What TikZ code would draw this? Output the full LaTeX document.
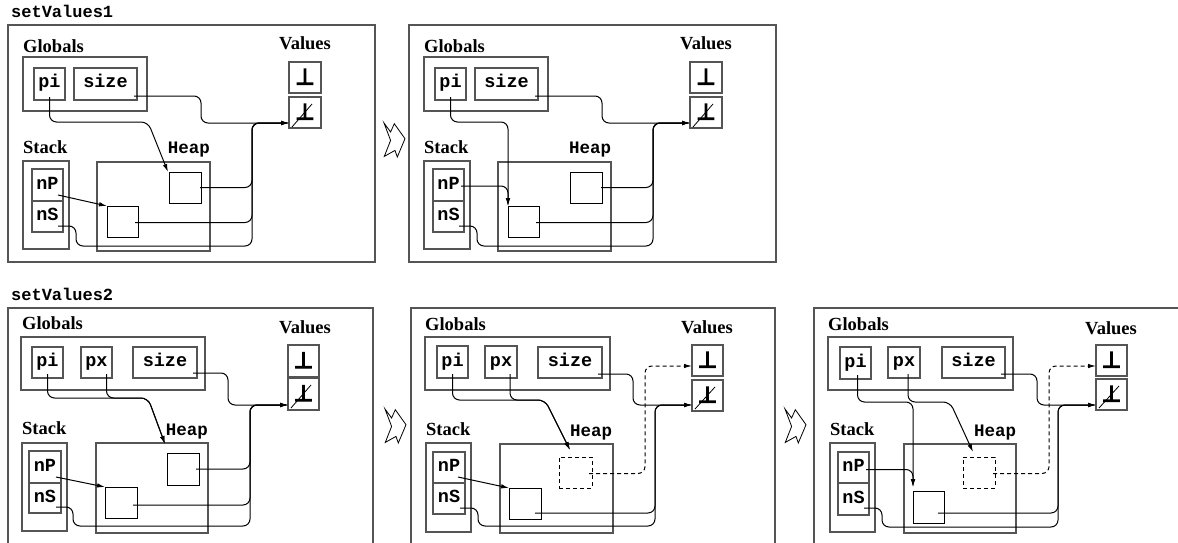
\documentclass[tikz,border=0pt]{standalone}
\usepackage{fontspec}
\setmainfont{Liberation Serif}
\setmonofont{Liberation Mono}
\newfontfamily\djv[FakeBold=6]{DejaVu Sans}
\usetikzlibrary{arrows.meta,calc}
\definecolor{fr}{RGB}{85,85,85}
\newcommand\rbox[7][]{\node[#1, minimum width={#5-#3}, minimum height={#6-#4}] (#2) at ({(#3+#5)/2},{(#4+#6)/2}) {#7};}
\newcommand\bottxt{{\djv ⊥}}
\newcommand\chevron[2]{\draw[chev, shift={(#1,#2)}] (0,0) -- (6.6,9) -- (10.3,0.7) -- (21,15.7) -- (13.3,34) -- (11,27.4) -- (0.3,33.4) -- (6.6,17.4) -- cycle;}
\tikzset{
  frm/.style={draw=fr, line width=1.2pt, inner sep=0pt, outer sep=0pt},
  grp/.style={draw=fr, line width=1.1pt, inner sep=0pt, outer sep=0pt},
  cell/.style={draw=fr, line width=1.1pt, inner sep=0pt, outer sep=0pt,
    font=\fontsize{18.5}{18}\selectfont\ttfamily\bfseries, text height=11pt, text depth=3pt},
  vcell/.style={font=\fontsize{22}{22}\selectfont, text height=14pt, text depth=0pt},
  hbox/.style={draw=black, line width=1pt, inner sep=0pt, outer sep=0pt},
  dbox/.style={hbox, dash pattern=on 4pt off 3pt},
  lbl/.style={font=\fontsize{18.5}{20}\selectfont\bfseries, anchor=base west, inner sep=0pt},
  vlbl/.style={lbl, anchor=base},
  hlbl/.style={font=\fontsize{17.5}{18}\selectfont\ttfamily\bfseries, anchor=base, inner sep=0pt},
  ttl/.style={font=\fontsize{17}{18}\selectfont\ttfamily\bfseries, anchor=base west, inner sep=0pt},
  link/.style={draw=black, line width=1pt, rounded corners=7pt},
  arr/.style={link, -{Latex[length=8pt,width=4.5pt]}},
  darr/.style={arr, dash pattern=on 4pt off 3pt},
  slash/.style={draw=black, line width=0.8pt},
  chev/.style={draw=black, line width=0.8pt, line join=miter},
}
\begin{document}
\begin{tikzpicture}[x=1pt,y=-1pt]
\useasboundingbox (0,0) rectangle (1178,543);
\clip (0,0) rectangle (1178,543);

%%%%%%%%%%%%%%%% Panel A
\node[ttl] (A-title) at (11,18) {setValues1};
\rbox[frm]{A-frame}{8}{25}{375}{262}{}
\node[lbl] (A-glab) at (23,53) {Globals};
\rbox[grp]{A-glob}{23}{57}{147}{111}{}
\rbox[cell]{A-pi}{34}{68}{65}{100}{pi}
\rbox[cell]{A-size}{74}{68}{137}{100}{size}
\node[vlbl] (A-vlab) at (305,50) {Values};
\rbox[cell,vcell]{A-bot}{289}{62}{321}{93}{\bottxt}
\rbox[cell,vcell]{A-nbot}{289}{97}{321}{128}{\bottxt}
\draw[slash] ($(A-nbot.south west)+(3,-1)$) -- ($(A-nbot.north east)+(-9,7)$);
\node[lbl] (A-slab) at (23,153) {Stack};
\rbox[grp]{A-stack}{23}{161}{69}{249}{}
\rbox[cell]{A-nP}{32}{169}{63}{201}{nP}
\rbox[cell]{A-nS}{32}{201}{63}{232}{nS}
\node[hlbl] (A-hlab) at (189,153) {Heap};
\rbox[grp]{A-heap}{97}{162}{210}{251}{}
\rbox[hbox]{A-up}{169}{172}{201}{203}{}
\rbox[hbox]{A-lo}{107}{206}{138}{237}{}
\coordinate (A-in) at ($(A-nbot.south west)+(0,-5)$);
\draw[arr] ($(A-size.south east)+(-3,-4)$) -| (201,123) -- (A-in);
\draw[arr] ($(A-pi.south)+(0,-3)$) |- (148,122) -- ($(A-up.north west)+(-1,0)$);
\draw[arr] ($(A-nP.south east)+(-5,-6)$) -- (A-lo.north west);
\draw[arr] ($(A-up.east)+(-1,0)$) -| (252,123) -- (A-in);
\draw[arr] ($(A-lo.east)+(-3,1)$) -| (252,123) -- (A-in);
\draw[arr] ($(A-nS.east)+(-5,9.5)$) -| (76,246) -| (252,123) -- (A-in);

\chevron{384}{123}

%%%%%%%%%%%%%%%% Panel B
\rbox[frm]{B-frame}{409}{25}{776}{262}{}
\node[lbl] (B-glab) at (424,53) {Globals};
\rbox[grp]{B-glob}{424}{57}{548}{111}{}
\rbox[cell]{B-pi}{435}{68}{466}{100}{pi}
\rbox[cell]{B-size}{475}{68}{538}{100}{size}
\node[vlbl] (B-vlab) at (706,50) {Values};
\rbox[cell,vcell]{B-bot}{690}{62}{722}{93}{\bottxt}
\rbox[cell,vcell]{B-nbot}{690}{97}{722}{128}{\bottxt}
\draw[slash] ($(B-nbot.south west)+(3,-1)$) -- ($(B-nbot.north east)+(-9,7)$);
\node[lbl] (B-slab) at (424,153) {Stack};
\rbox[grp]{B-stack}{424}{161}{470}{249}{}
\rbox[cell]{B-nP}{433}{169}{464}{201}{nP}
\rbox[cell]{B-nS}{433}{201}{464}{232}{nS}
\node[hlbl] (B-hlab) at (590,153) {Heap};
\rbox[grp]{B-heap}{498}{162}{611}{251}{}
\rbox[hbox]{B-up}{570}{172}{602}{203}{}
\rbox[hbox]{B-lo}{508}{206}{539}{237}{}
\coordinate (B-in) at ($(B-nbot.south west)+(0,-5)$);
\draw[arr] ($(B-size.south east)+(-3,-4)$) -| (602,123) -- (B-in);
\draw[arr] ($(B-pi.south)+(0,-3)$) |- (508,122) -- (B-lo.north west);
\draw[arr] ($(B-nP.east)+(-3,1)$) -| (B-lo.north west);
\draw[arr] ($(B-up.east)+(-1,0)$) -| (653,123) -- (B-in);
\draw[arr] ($(B-lo.east)+(-3,1)$) -| (653,123) -- (B-in);
\draw[arr] ($(B-nS.east)+(-5,9.5)$) -| (477,246) -| (653,123) -- (B-in);

%%%%%%%%%%%%%%%% Panel C
\node[ttl] (C-title) at (11,300) {setValues2};
\rbox[frm]{C-frame}{8}{308}{373}{580}{}
\node[lbl] (C-glab) at (22,329) {Globals};
\rbox[grp]{C-glob}{21}{337}{205}{390}{}
\rbox[cell]{C-pi}{32}{347}{63}{378}{pi}
\rbox[cell]{C-px}{81}{347}{112}{378}{px}
\rbox[cell]{C-size}{133}{347}{197}{378}{size}
\node[vlbl] (C-vlab) at (305,333) {Values};
\rbox[cell,vcell]{C-bot}{288}{345}{319}{377}{\bottxt}
\rbox[cell,vcell]{C-nbot}{288}{378}{319}{410}{\bottxt}
\draw[slash] ($(C-nbot.south west)+(3,-2)$) -- ($(C-nbot.north east)+(-8,7)$);
\node[lbl] (C-slab) at (22,434) {Stack};
\rbox[grp]{C-stack}{22}{443}{67}{531}{}
\rbox[cell]{C-nP}{29}{451}{61}{483}{nP}
\rbox[cell]{C-nS}{29}{483}{61}{513}{nS}
\node[hlbl] (C-hlab) at (187,435) {Heap};
\rbox[grp]{C-heap}{96}{443}{208}{533}{}
\rbox[hbox]{C-up}{167}{453}{199}{485}{}
\rbox[hbox]{C-lo}{105}{487}{137}{518}{}
\coordinate (C-in) at ($(C-nbot.south west)+(0,-5)$);
\draw[arr] ($(C-size.south east)+(-4,-5)$) -| (228,405) -- (C-in);
\draw[arr] ($(C-pi.south)+(0,-4)$) |- (148,398) -- ($(C-up.north west)+(-2,-9)$);
\draw[arr] ($(C-px.south)+(10,-4)$) |- (148,398) -- ($(C-up.north west)+(-2,-9)$);
\draw[arr] ($(C-nP.south east)+(-5,-6)$) -- (C-lo.north west);
\draw[arr] ($(C-up.east)+(-3,0)$) -| (250,405) -- (C-in);
\draw[arr] ($(C-lo.east)+(-4,2.5)$) -| (250,405) -- (C-in);
\draw[arr] ($(C-nS.east)+(-5,9)$) -| (73,526) -| (250,405) -- (C-in);

\chevron{385}{409}

%%%%%%%%%%%%%%%% Panel D
\rbox[frm]{D-frame}{411}{308}{775}{580}{}
\node[lbl] (D-glab) at (425,330) {Globals};
\rbox[grp]{D-glob}{425}{337}{610}{390}{}
\rbox[cell]{D-pi}{437}{346}{468}{378}{pi}
\rbox[cell]{D-px}{485}{346}{517}{378}{px}
\rbox[cell]{D-size}{538}{347}{602}{378}{size}
\node[vlbl] (D-vlab) at (707,333) {Values};
\rbox[cell,vcell]{D-bot}{692}{345}{723}{376}{\bottxt}
\rbox[cell,vcell]{D-nbot}{692}{380}{723}{411}{\bottxt}
\draw[slash] ($(D-nbot.south west)+(3,-2)$) -- ($(D-nbot.north east)+(-8,7)$);
\node[lbl] (D-slab) at (426,435) {Stack};
\rbox[grp]{D-stack}{426}{443}{471}{532}{}
\rbox[cell]{D-nP}{433}{452}{465}{483}{nP}
\rbox[cell]{D-nS}{433}{483}{465}{514}{nS}
\node[hlbl] (D-hlab) at (591,436) {Heap};
\rbox[grp]{D-heap}{500}{444}{613}{533}{}
\rbox[dbox]{D-new}{559}{457}{592}{488}{}
\rbox[hbox]{D-lo}{509}{488}{541}{519}{}
\coordinate (D-in) at ($(D-nbot.south west)+(0,-6)$);
\draw[arr] ($(D-size.south east)+(-4,-4)$) -| (633,405) -- (D-in);
\draw[darr] ($(D-new.east)+(-3,1)$) -| (645,366) -- ($(D-bot.south west)+(0,-10)$);
\draw[arr] ($(D-pi.south)+(0,-4)$) |- (545,400) -- ($(D-new.north west)+(11,-7)$);
\draw[arr] ($(D-px.south)+(9,-4)$) |- (545,400) -- ($(D-new.north west)+(11,-7)$);
\draw[arr] ($(D-nP.south east)+(-7,-6)$) -- (D-lo.north west);
\draw[arr] ($(D-lo.east)+(-6,9.5)$) -| (655,405) -- (D-in);
\draw[arr] ($(D-nS.east)+(-5,9.5)$) -| (478,526) -| (655,405) -- (D-in);

\chevron{785}{409}

%%%%%%%%%%%%%%%% Panel E
\rbox[frm]{E-frame}{814}{308}{1200}{580}{}
\node[lbl] (E-glab) at (828,330) {Globals};
\rbox[grp]{E-glob}{828}{337}{1013}{390}{}
\rbox[cell]{E-pi}{840}{347}{871}{379}{pi}
\rbox[cell]{E-px}{888}{347}{920}{378}{px}
\rbox[cell]{E-size}{942}{347}{1005}{378}{size}
\node[vlbl] (E-vlab) at (1111,334) {Values};
\rbox[cell,vcell]{E-bot}{1096}{345}{1127}{376}{\bottxt}
\rbox[cell,vcell]{E-nbot}{1096}{379}{1127}{410}{\bottxt}
\draw[slash] ($(E-nbot.south west)+(3,-2)$) -- ($(E-nbot.north east)+(-8,7)$);
\node[lbl] (E-slab) at (830,435) {Stack};
\rbox[grp]{E-stack}{830}{443}{875}{532}{}
\rbox[cell]{E-nP}{838}{452}{869}{483}{nP}
\rbox[cell]{E-nS}{838}{483}{869}{515}{nS}
\node[hlbl] (E-hlab) at (995,436) {Heap};
\rbox[grp]{E-heap}{904}{444}{1016}{533}{}
\rbox[dbox]{E-new}{963}{457}{995}{488}{}
\rbox[hbox]{E-lo}{913}{491}{944}{523}{}
\coordinate (E-in) at ($(E-nbot.south west)+(0,-5)$);
\coordinate (E-lotop) at ($(E-lo.north west)+(0,-4)$);
\draw[arr] ($(E-size.south east)+(-4,-4)$) -| (1037,405) -- (E-in);
\draw[darr] ($(E-new.east)+(-2,1)$) -| (1049,366) -- ($(E-bot.south west)+(0,-10)$);
\draw[arr] ($(E-pi.south)+(2,-4)$) |- (913,402) -- (E-lotop);
\draw[arr] ($(E-nP.east)+(-3,2)$) -| (E-lotop);
\draw[arr] ($(E-px.south)+(4,-4)$) |- (950,402) -- ($(E-new.north west)+(10,-5)$);
\draw[arr] ($(E-lo.east)+(-6,6)$) -| (1058,405) -- (E-in);
\draw[arr] ($(E-nS.east)+(-5,9)$) -| (882,527) -| (1058,405) -- (E-in);
\end{tikzpicture}
\end{document}
